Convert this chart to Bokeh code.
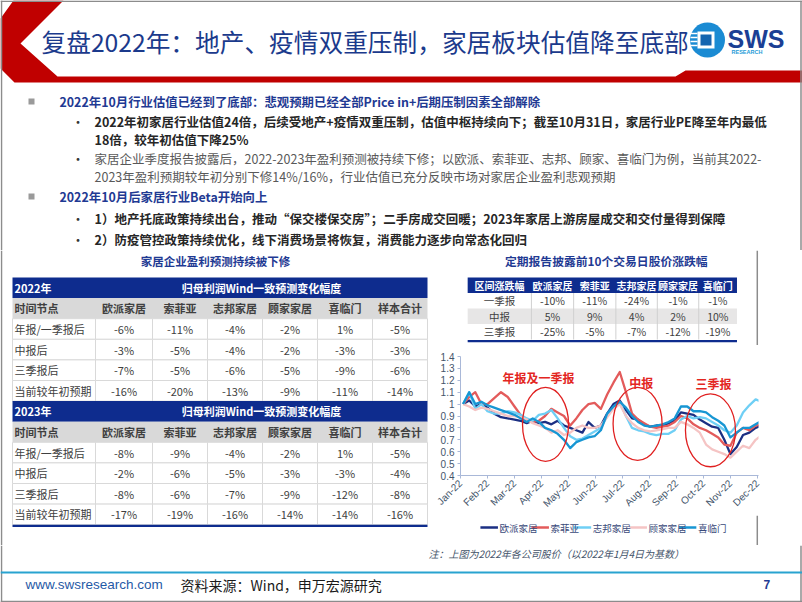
import pandas as pd
from bokeh.plotting import figure
from bokeh.layouts import column, row
from bokeh.models import Range1d, FixedTicker, NumeralTickFormatter
from bokeh.core.properties import value
from bokeh.embed import file_html
from bokeh.resources import INLINE

CJK = "Noto Sans CJK SC"
LAT = "Liberation Sans"

# ---------------- data ----------------
companies = ["欧派家居", "索菲亚", "志邦家居", "顾家家居", "喜临门"]
table_cols = ["欧派家居", "索菲亚", "志邦家居", "顾家家居", "喜临门", "样本合计"]
row_labels = ["年报/一季报后", "中报后", "三季报后", "当前较年初预期"]
rev_2022 = [[-6, -11, -4, -2, 1, -5],
            [-3, -5, -4, -2, -3, -3],
            [-7, -5, -6, -5, -9, -6],
            [-16, -20, -13, -9, -11, -14]]
rev_2023 = [[-8, -9, -4, -2, 1, -5],
            [-2, -6, -5, -3, -3, -4],
            [-8, -6, -7, -9, -12, -8],
            [-17, -19, -16, -14, -14, -16]]
periods = ["一季报", "中报", "三季报"]
pre_report_chg = [[-10, -11, -24, -1, -1],
                  [5, 9, 4, 2, 10],
                  [-25, -5, -7, -12, -19]]

month_labels = ["Jan-22", "Feb-22", "Mar-22", "Apr-22", "May-22", "Jun-22",
                "Jul-22", "Aug-22", "Sep-22", "Oct-22", "Nov-22", "Dec-22"]
# weekly observations from 2022-01-04
oppein = [1.00, 1.03, 0.98, 1.00, 0.97, 0.92, 0.89, 0.88, 0.87, 0.86, 0.84, 0.86, 0.84,
          0.85, 0.83, 0.86, 0.82, 0.80, 0.78, 0.76, 0.85, 0.80, 0.82, 0.92, 1.00, 1.03,
          0.95, 0.88, 0.87, 0.83, 0.81, 0.82, 0.82, 0.84, 0.86, 0.93, 0.92, 0.91, 0.87,
          0.84, 0.81, 0.80, 0.70, 0.58, 0.64, 0.74, 0.76, 0.80, 0.82]
sofia = [1.00, 1.06, 1.10, 1.00, 1.00, 1.05, 1.10, 1.06, 0.98, 0.91, 0.86, 0.85, 0.86,
         0.90, 0.96, 0.93, 0.90, 0.82, 0.88, 0.95, 1.00, 1.01, 0.96, 1.08, 1.18, 1.27,
         1.10, 0.92, 0.87, 0.84, 0.81, 0.80, 0.81, 0.82, 0.85, 0.90, 0.88, 0.83, 0.80,
         0.78, 0.75, 0.72, 0.66, 0.65, 0.76, 0.80, 0.78, 0.82, 0.83]
zbom = [1.00, 1.10, 0.96, 1.00, 0.94, 0.92, 0.92, 0.94, 0.93, 0.91, 0.88, 0.86, 0.91,
        0.92, 0.95, 0.88, 0.80, 0.73, 0.70, 0.71, 0.74, 0.77, 0.80, 0.90, 0.97, 1.02,
        0.90, 0.80, 0.78, 0.77, 0.75, 0.74, 0.75, 0.75, 0.78, 0.87, 0.90, 0.88, 0.89,
        0.88, 0.85, 0.82, 0.78, 0.76, 0.82, 0.93, 0.99, 1.04, 1.02]
kuka = [1.00, 0.98, 0.95, 0.97, 0.96, 0.94, 0.92, 0.90, 0.90, 0.89, 0.87, 0.84, 0.82,
        0.80, 0.76, 0.78, 0.74, 0.76, 0.80, 0.82, 0.80, 0.80, 0.82, 0.89, 0.96, 1.00,
        0.90, 0.84, 0.80, 0.78, 0.77, 0.78, 0.79, 0.80, 0.80, 0.85, 0.83, 0.80, 0.76,
        0.66, 0.62, 0.60, 0.58, 0.55, 0.60, 0.65, 0.63, 0.70, 0.74]
sleemon = [1.00, 1.10, 1.00, 1.02, 0.99, 0.97, 0.95, 0.93, 0.91, 0.88, 0.85, 0.88, 0.85,
           0.80, 0.78, 0.75, 0.70, 0.63, 0.68, 0.70, 0.72, 0.73, 0.78, 0.92, 0.98, 1.02,
           0.97, 0.90, 0.85, 0.82, 0.81, 0.82, 0.83, 0.85, 0.88, 0.98, 0.98, 0.94, 0.94,
           0.93, 0.89, 0.86, 0.82, 0.72, 0.76, 0.80, 0.80, 0.83, 0.86]
series = [oppein, sofia, zbom, kuka, sleemon]
series_colors = ["#1B2F83", "#E35B5B", "#6FCFF5", "#F5C4C4", "#1796D3"]

ann_text = ["年报及一季报", "中报", "三季报"]
ann_x = [2.89, 6.70, 9.37]
ann_y = [1.226, 1.185, 1.17]
ell_x = [3.15, 6.56, 9.26]
ell_y = [0.83, 0.834, 0.78]

# ---------------- helpers ----------------
BLUE_TXT = "#1F3A93"
BAND = "#0E2C8E"
BORDER = "#8C8C8C"


def canvas(x0, x1, y0, y1):
    p = figure(width=x1 - x0, height=y1 - y0, x_range=Range1d(x0, x1), y_range=Range1d(y1, y0),
               output_backend="svg", toolbar_location=None, x_axis_location=None,
               y_axis_location=None, min_border=0)
    p.outline_line_color = None
    p.xgrid.visible = False
    p.ygrid.visible = False
    return p


def txt(p, x, y, s, size, color, style="normal", align="left", font=CJK):
    xs = x if isinstance(x, list) else [x]
    ys = y if isinstance(y, list) else [y]
    ss = s if isinstance(s, list) else [s]
    p.text(x=xs, y=ys, text=ss, text_font=value(font), text_font_size=value(f"{size}px"),
           text_font_style=style, text_color=color, text_align=align, text_baseline="middle")


# ---------------- top: header + bullets ----------------
top = canvas(0, 802, 0, 250)
top.patch([13, 63, 20, 57, 675, 685, 802, 802, 14, 0, 0],
          [0, 0, 43, 76, 76, 70, 70, 82, 82, 68, 18], fill_color="#C00000", line_color=None)
top.segment(x0=[0, 1, 800.5], x1=[802, 1, 800.5], y0=[0.75, 0, 0], y1=[0.75, 250, 250],
            line_color=BORDER, line_width=1.5)
txt(top, 41, 40, "复盘2022年：地产、疫情双重压制，家居板块估值降至底部", 24.7, "#1B3A8C")
# logo
top.circle(x=[707], y=[39.5], radius=17.5, fill_color="#1B8BD3", line_color=None)
top.quad(left=[697], right=[714], top=[31], bottom=[48], fill_color="white", line_color=None)
top.quad(left=[700], right=[711], top=[34], bottom=[45], fill_color="#1565B0", line_color=None)
top.segment(x0=[690] * 4, x1=[697] * 4, y0=[33, 37, 41, 45], y1=[33, 37, 41, 45],
            line_color="white", line_width=1.5)
txt(top, 727, 38, "SWS", 25, "#1B3F94", style="bold", font=LAT)
txt(top, 731, 51.5, "RESEARCH", 5.5, "#1E9BD7", style="bold", font=LAT)

top.scatter(x=[31, 31], y=[101, 196], marker="square", size=6, fill_color="#9A9A9A", line_color=None)
txt(top, [71, 71, 71, 71], [121, 158, 218, 239], ["•"] * 4, 13, "#333333")
txt(top, 59, 101, "2022年10月行业估值已经到了底部：悲观预期已经全部Price in+后期压制因素全部解除",
    12.4, BLUE_TXT, style="bold")
txt(top, [94, 94], [121, 139],
    ["2022年初家居行业估值24倍，后续受地产+疫情双重压制，估值中枢持续向下；截至10月31日，家居行业PE降至年内最低",
     "18倍，较年初估值下降25%"], 12.5, "#262626", style="bold")
txt(top, [94, 94], [158, 176],
    ["家居企业季度报告披露后，2022-2023年盈利预测被持续下修；以欧派、索菲亚、志邦、顾家、喜临门为例，当前其2022-",
     "2023年盈利预期较年初分别下修14%/16%，行业估值已充分反映市场对家居企业盈利悲观预期"], 12.5, "#595959")
txt(top, 59, 196, "2022年10月后家居行业Beta开始向上", 12.4, BLUE_TXT, style="bold")
txt(top, [94, 94], [218, 239],
    ["1）地产托底政策持续出台，推动“保交楼保交房”；二手房成交回暖；2023年家居上游房屋成交和交付量得到保障",
     "2）防疫管控政策持续优化，线下消费场景将恢复，消费能力逐步向常态化回归"], 12.5, "#262626", style="bold")

# ---------------- left: forecast revision tables ----------------
left = canvas(0, 428, 250, 545)
left.segment(x0=[1], x1=[1], y0=[250], y1=[545], line_color=BORDER, line_width=1.5)
txt(left, 215, 260, "家居企业盈利预测持续被下修", 11.5, BLUE_TXT, style="bold", align="center")
LX = [12, 95, 152, 207, 262, 317, 372, 427]
RH = 20.6
centers = [(LX[i] + LX[i + 1]) / 2 for i in range(1, 7)]


def section(p, y0, year, data, last=False):
    p.quad(left=[LX[0]], right=[LX[-1]], top=[y0], bottom=[y0 + RH], fill_color=BAND, line_color=None)
    txt(p, 14, y0 + RH / 2, year, 11, "white", style="bold")
    txt(p, 261, y0 + RH / 2, "归母利润Wind一致预测变化幅度", 11, "white", style="bold", align="center")
    p.quad(left=[LX[0]], right=[LX[-1]], top=[y0 + RH], bottom=[y0 + 2 * RH], fill_color="#D9D9D9",
           line_color=None)
    txt(p, 14, y0 + 1.5 * RH, "时间节点", 11, "#404040", style="bold")
    txt(p, centers, [y0 + 1.5 * RH] * 6, table_cols, 11, "#404040", style="bold", align="center")
    ls, rs, ts, bs = [], [], [], []
    for r in range(4):
        for c in range(7):
            ls.append(LX[c]); rs.append(LX[c + 1])
            ts.append(y0 + (2 + r) * RH); bs.append(y0 + (3 + r) * RH)
    p.quad(left=ls, right=rs, top=ts, bottom=bs, fill_color="white", line_color="#D9D9D9", line_width=1)
    for r in range(4):
        yc = y0 + (2.5 + r) * RH
        txt(p, 14, yc, row_labels[r], 11, "#404040")
        txt(p, centers, [yc] * 6, [f"{v}%" for v in data[r]], 11, "#404040", align="center")
    if last:
        p.quad(left=[LX[0]], right=[LX[-1]], top=[y0 + 6 * RH], bottom=[y0 + 6 * RH + 2.2],
               fill_color=BAND, line_color=None)


section(left, 277, "2022年", rev_2022)
section(left, 277 + 6 * RH, "2023年", rev_2023, last=True)

# ---------------- right top: pre-report price change table ----------------
rt = canvas(428, 802, 250, 345)
rt.segment(x0=[800.5], x1=[800.5], y0=[250], y1=[345], line_color=BORDER, line_width=1.5)
txt(rt, 611, 260, "定期报告披露前10个交易日股价涨跌幅", 11.8, BLUE_TXT, style="bold", align="center")
RX = [437, 517, 570, 623, 675, 727, 775]
rc = [(RX[i] + RX[i + 1]) / 2 for i in range(6)]
RT0, RRH = 277, 15.5
rt.quad(left=[RX[0]], right=[RX[-1]], top=[RT0], bottom=[RT0 + RRH], fill_color=BAND, line_color=None)
txt(rt, rc, [RT0 + RRH / 2] * 6, ["区间涨跌幅"] + companies, 10, "white", style="bold", align="center")
rt.quad(left=[RX[0]] * 3, right=[RX[-1]] * 3, top=[RT0 + RRH * (1 + i) for i in range(3)],
        bottom=[RT0 + RRH * (2 + i) for i in range(3)], fill_color=["white", "#E7E6E6", "white"],
        line_color=None)
rt.segment(x0=RX[1:-1], x1=RX[1:-1], y0=[RT0 + RRH] * 5, y1=[RT0 + 4 * RRH] * 5,
           line_color="#D0D0D0", line_width=1)
for r in range(3):
    yc = RT0 + RRH * (1.5 + r)
    txt(rt, rc[0], yc, periods[r], 10.5, "#404040", align="center")
    txt(rt, rc[1:], [yc] * 5, [f"{v}%" for v in pre_report_chg[r]], 10.5, "#404040", align="center")
rt.quad(left=[RX[0]], right=[RX[-1]], top=[RT0 + 4 * RRH + 0.5], bottom=[RT0 + 4 * RRH + 2.7],
        fill_color=BAND, line_color=None)

# ---------------- right: stock price line chart ----------------
dates = pd.date_range("2022-01-04", periods=len(oppein), freq="7D")
mx = list((dates.month - 1) + (dates.day - 1) / dates.days_in_month)

ch = figure(width=374, height=170, x_range=Range1d(0, 11.04), y_range=Range1d(0.4, 1.4),
            output_backend="svg", toolbar_location=None, min_border_left=32, min_border_right=44,
            min_border_top=11, min_border_bottom=38)
ch.outline_line_color = None
ch.xgrid.visible = False
ch.ygrid.visible = False
for s, col in zip(series, series_colors):
    ch.line(mx, s, line_color=col, line_width=2.3, line_join="round")
ch.ellipse(x=ell_x, y=ell_y, width=[46, 49, 50], height=[74, 73, 73], width_units="screen",
           height_units="screen", fill_color=None, line_color="#E02020", line_width=1.3)
ch.text(x=ann_x, y=ann_y, text=ann_text, text_font=value(CJK), text_font_size=value("12px"),
        text_font_style="bold", text_color="#E3261F", text_align="center", text_baseline="middle")

ch.xaxis.ticker = FixedTicker(ticks=list(range(12)))
ch.xaxis.major_label_overrides = {i: m for i, m in enumerate(month_labels)}
ch.xaxis.major_label_orientation = 0.785
ch.yaxis.ticker = FixedTicker(ticks=[0.4, 0.5, 0.6, 0.7, 0.8, 0.9, 1.0, 1.1, 1.2, 1.3, 1.4])
ch.yaxis.formatter = NumeralTickFormatter(format="0.[0]")
for ax in (ch.xaxis, ch.yaxis):
    ax.axis_line_color = "#A9B8D8"
    ax.major_tick_line_color = "#A9B8D8"
    ax.minor_tick_line_color = None
    ax.major_tick_in = 0
    ax.major_tick_out = 3
    ax.major_label_text_font = LAT
    ax.major_label_text_font_size = "10px"
    ax.major_label_text_color = "#44546A"
    ax.major_label_standoff = 3

# legend strip under the chart (keys drawn by hand)
lg = canvas(428, 802, 515, 545)
lg.segment(x0=[800.5], x1=[800.5], y0=[515], y1=[545], line_color=BORDER, line_width=1.5)
key_x0 = [453, 517, 570, 640, 702]
lg.segment(x0=key_x0, x1=[k + 22 for k in key_x0], y0=[527] * 5, y1=[527] * 5,
           line_color=series_colors, line_width=2.3)
txt(lg, [k + 24 for k in key_x0], [527] * 5, companies, 9.5, "#3A4A7A")

# ---------------- bottom: note + footer ----------------
bot = canvas(0, 802, 545, 602)
bot.segment(x0=[1, 800.5, 0], x1=[1, 800.5, 802], y0=[545, 545, 601], y1=[602, 602, 601],
            line_color=BORDER, line_width=1.5)
txt(bot, 428, 553, "注：上图为2022年各公司股价（以2022年1月4日为基数）", 10, "#44546A", style="italic")
bot.quad(left=[0], right=[802], top=[571], bottom=[573], fill_color="#29A3D0", line_color=None)
txt(bot, 25, 584, "www.swsresearch.com", 13.5, "#1F5AA6", font=LAT)
txt(bot, 180, 584, "资料来源：Wind，申万宏源研究", 14, "#1A1A1A")
txt(bot, 763, 584, "7", 12, BLUE_TXT, style="bold", font=LAT)

layout = column(top, row(left, column(rt, ch, lg)), bot)
open("out.html", "w").write(file_html(layout, INLINE))
